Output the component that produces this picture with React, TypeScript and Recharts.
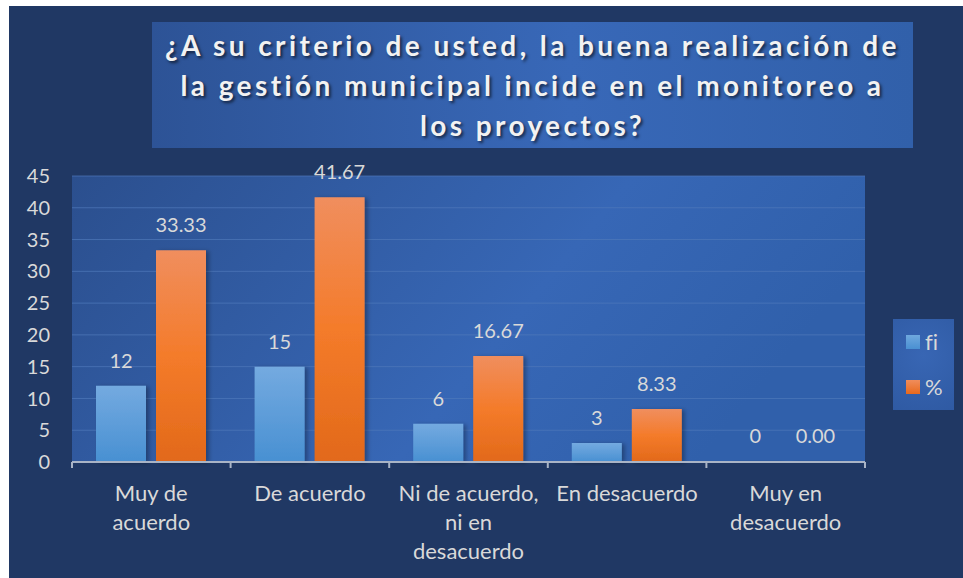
import { Bar, BarChart, CartesianGrid, LabelList, Legend, XAxis, YAxis } from 'recharts';

const categories = [
  'Muy de\nacuerdo',
  'De acuerdo',
  'Ni de acuerdo,\nni en\ndesacuerdo',
  'En desacuerdo',
  'Muy en\ndesacuerdo',
];
const fiValues = [12, 15, 6, 3, 0];
const pctValues = [33.33, 41.67, 16.67, 8.33, 0];
const yTicks = [0, 5, 10, 15, 20, 25, 30, 35, 40, 45];
const titleLines = [
  '¿A su criterio de usted, la buena realización de',
  'la gestión municipal incide en el monitoreo a',
  'los proyectos?',
];

const data = categories.map((name, i) => ({ name, fi: fiValues[i], pct: pctValues[i] }));

const FONT = 'Lato, "Open Sans", sans-serif';
const TEXT = '#d9d9d9';

function CategoryTick(props: any) {
  const { x, y, payload, index, visibleTicksCount } = props;
  const lines = String(payload.value).split('\n');
  const half = payload.offset ?? 0;
  const isLast = index === visibleTicksCount - 1;
  return (
    <g>
      <line x1={x - half} x2={x - half} y1={y - 8} y2={y - 2} stroke="#a9b4c6" strokeWidth={2} />
      {isLast && <line x1={x + half} x2={x + half} y1={y - 8} y2={y - 2} stroke="#a9b4c6" strokeWidth={2} />}
      <text x={x} y={y + 31} textAnchor="middle" fill={TEXT} fontSize={22} fontFamily={FONT}>
        {lines.map((l, i) => (
          <tspan key={i} x={x} dy={i === 0 ? 0 : 29}>
            {l}
          </tspan>
        ))}
      </text>
    </g>
  );
}

function LegendBox() {
  const items = ['fi', '%'];
  return (
    <div
      style={{
        width: 61,
        height: 91,
        background: 'radial-gradient(circle at 50% 40%, #3866b4 0%, #2f5aa3 100%)',
        boxSizing: 'border-box',
        paddingTop: 12,
        paddingLeft: 13,
        fontFamily: FONT,
      }}
    >
      {items.map((label, i) => (
        <div key={i} style={{ display: 'flex', alignItems: 'center', height: 22, marginBottom: i === 0 ? 23 : 0 }}>
          <span
            style={{
              display: 'inline-block',
              width: 14,
              height: 14,
              background: i === 0 ? 'linear-gradient(#6fa8de, #4a90d2)' : 'linear-gradient(#f08d5c, #e8691c)',
            }}
          />
          <span
            style={{
              color: TEXT,
              fontSize: 22,
              marginLeft: 5,
              lineHeight: '22px',
              fontVariantLigatures: 'none',
            }}
          >
            {label}
          </span>
        </div>
      ))}
    </div>
  );
}

export default function App() {
  return (
    <div
      style={{
        position: 'absolute',
        left: 9,
        top: 6,
        width: 954,
        height: 572,
        background: '#203864',
        fontFamily: FONT,
      }}
    >
      <div
        style={{
          position: 'absolute',
          left: 143,
          top: 16,
          width: 761,
          height: 126,
          background: 'linear-gradient(90deg, #2d5396 0%, #3868b8 55%, #3160aa 100%)',
          color: '#f2f2f2',
          fontWeight: 700,
          fontSize: 28,
          letterSpacing: 3.4,
          textAlign: 'center',
          lineHeight: '40px',
          paddingTop: 3,
          boxSizing: 'border-box',
          textShadow: '2px 2px 3px rgba(0,0,0,0.6)',
          whiteSpace: 'nowrap',
        }}
      >
        {titleLines.map((l, i) => (
          <div key={i}>{l}</div>
        ))}
      </div>
      <BarChart
        width={954}
        height={572}
        data={data}
        margin={{ top: 170, right: 98, bottom: 16, left: 13 }}
        barGap={10}
        barSize={50}
        style={{ position: 'absolute', left: 0, top: 0 }}
      >
        <defs>
          <linearGradient id="plotBg" x1="0" y1="0" x2="1" y2="0.3">
            <stop offset="0%" stopColor="#2b4f8e" />
            <stop offset="65%" stopColor="#3767b6" />
            <stop offset="100%" stopColor="#3060ab" />
          </linearGradient>
          <linearGradient id="blueBar" x1="0" y1="0" x2="0" y2="1">
            <stop offset="0%" stopColor="#74aae0" />
            <stop offset="100%" stopColor="#4890d2" />
          </linearGradient>
          <linearGradient id="orangeBar" x1="0" y1="0" x2="0" y2="1">
            <stop offset="0%" stopColor="#f08e5e" />
            <stop offset="50%" stopColor="#f47b2a" />
            <stop offset="100%" stopColor="#e2691a" />
          </linearGradient>
          <filter id="barShadow" x="-20%" y="-20%" width="150%" height="140%">
            <feDropShadow dx="3" dy="1" stdDeviation="2" floodColor="#000" floodOpacity="0.3" />
          </filter>
        </defs>
        <CartesianGrid vertical={false} stroke="#5079bb" strokeOpacity={0.7} fill="url(#plotBg)" />
        <XAxis
          dataKey="name"
          interval={0}
          height={100}
          axisLine={{ stroke: '#a9b4c6', strokeWidth: 2 }}
          tickLine={false}
          tick={<CategoryTick />}
        />
        <YAxis
          width={50}
          domain={[0, 45]}
          ticks={yTicks}
          axisLine={false}
          tickLine={false}
          tickSize={0}
          tickMargin={22}
          tick={{ fill: TEXT, fontSize: 20, fontFamily: FONT }}
        />
        <Legend
          layout="vertical"
          align="center"
          verticalAlign="middle"
          content={() => <LegendBox />}
          wrapperStyle={{ left: 884, top: 313, width: 61, height: 91 }}
        />
        <Bar
          dataKey="fi"
          name="fi"
          fill="url(#blueBar)"
          filter="url(#barShadow)"
          minPointSize={1}
          isAnimationActive={false}
        >
          <LabelList dataKey="fi" position="top" offset={18} fill={TEXT} fontSize={20} fontFamily={FONT} />
        </Bar>
        <Bar
          dataKey="pct"
          name="%"
          fill="url(#orangeBar)"
          filter="url(#barShadow)"
          minPointSize={1}
          isAnimationActive={false}
        >
          <LabelList
            dataKey="pct"
            position="top"
            offset={18}
            fill={TEXT}
            fontSize={20}
            fontFamily={FONT}
            formatter={(v: any) => Number(v).toFixed(2)}
          />
        </Bar>
      </BarChart>
    </div>
  );
}
